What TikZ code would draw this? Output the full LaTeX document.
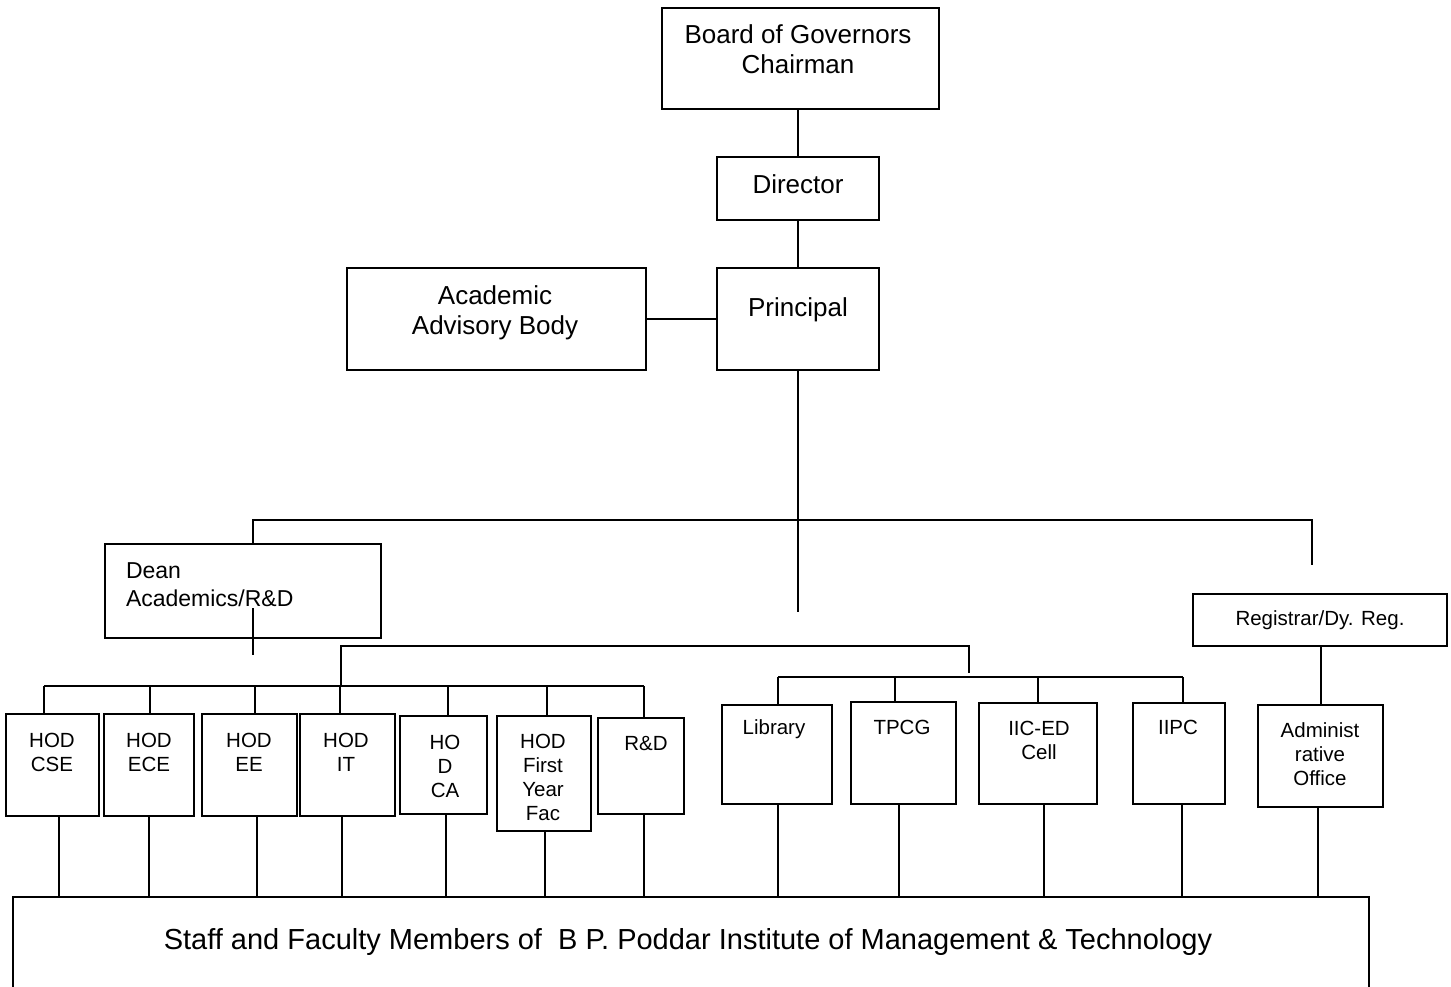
\documentclass[tikz,border=0pt]{standalone}
\usepackage{fontspec}
\setmainfont{Liberation Sans}
\usetikzlibrary{fit}
\begin{document}
\begin{tikzpicture}[x=0.5pt,y=-0.5pt,line width=1pt,
  box/.style={draw,inner sep=0pt,line width=1pt},
  big/.style={inner sep=0pt,align=center,font=\fontsize{13}{15.25}\selectfont},
  mid/.style={inner sep=0pt,align=left,font=\fontsize{11.5}{14}\selectfont},
  small/.style={inner sep=0pt,align=center,font=\fontsize{10.25}{12}\selectfont},
  huge/.style={inner sep=0pt,font=\fontsize{14.5}{17}\selectfont}]
\useasboundingbox (0,0) rectangle (1451,986);
\clip (0,0) rectangle (1451,986);
% boxes
\node[box,fit={(662,8) (939,109)}] (board) {};
\node[box,fit={(717,157) (879,220)}] (director) {};
\node[box,fit={(717,268) (879,370)}] (principal) {};
\node[box,fit={(347,268) (646,370)}] (academic) {};
\node[box,fit={(105,544) (381,638)}] (dean) {};
\node[box,fit={(1193,594) (1447,646)}] (registrar) {};
\node[box,fit={(6,714) (99,816)}] (cse) {};
\node[box,fit={(104,714) (194,816)}] (ece) {};
\node[box,fit={(202,714) (297,816)}] (ee) {};
\node[box,fit={(300,714) (395,816)}] (it) {};
\node[box,fit={(400,716) (487,814)}] (ca) {};
\node[box,fit={(497,716) (591,831)}] (fy) {};
\node[box,fit={(598,718) (684,814)}] (rd) {};
\node[box,fit={(722,705) (832,804)}] (library) {};
\node[box,fit={(851,702) (956,804)}] (tpcg) {};
\node[box,fit={(979,703) (1097,804)}] (iic) {};
\node[box,fit={(1133,703) (1225,804)}] (iipc) {};
\node[box,fit={(1258,705) (1383,807)}] (admin) {};
\node[box,fit={(13,897) (1369,1020)}] (staff) {};
% texts
\node[big] (boardt) at (798,49) {Board of Governors\\Chairman};
\node[big] (directort) at (798,184) {Director};
\node[big] (principalt) at (798,310) {Principal};
\node[big] (academict) at (495,313) {Academic\\Advisory Body};
\node[mid,anchor=west] (deant) at (125,585) {Dean\\Academics/R\&D};
\node[small] (registrart) at (1320,620) {Registrar/Dy. Reg.};
\node[small] (cset) at (52,752) {HOD\\CSE};
\node[small] (ecet) at (149,752) {HOD\\ECE};
\node[small] (eet) at (249,752) {HOD\\EE};
\node[small] (itt) at (346,752) {HOD\\IT};
\node[small] (cat) at (445,766) {HO\\D\\CA};
\node[small] (fyt) at (543,777) {HOD\\First\\Year\\Fac};
\node[small] (rdt) at (646,743) {R\&D};
\node[small] (libraryt) at (774,729) {Library};
\node[small] (tpcgt) at (902,727) {TPCG};
\node[small] (iict) at (1039,740) {IIC-ED\\Cell};
\node[small] (iipct) at (1178,727) {IIPC};
\node[small] (admint) at (1320,754) {Administ\\rative\\Office};
\node[huge] (stafft) at (688,942) {Staff and Faculty Members of\ \ B P. Poddar Institute of Management \& Technology};
% top connectors
\draw (director.north |- board.south) -- (director.north);
\draw (director.south) -- (principal.north);
\draw (academic.east) -- (principal.west);
\coordinate (pend) at (798,612);
\draw (principal.south) -- (pend);
\coordinate (hl) at (253,520);
\coordinate (hr) at (1312,520);
\coordinate (rend) at (1312,565);
\draw (dean.north -| hl) -- (hl) -- (hr) -- (rend);
\coordinate (dtop) at (253,608);
\coordinate (dbot) at (253,655);
\draw (dtop) -- (dbot);
% middle bus
\coordinate (m1) at (341,646);
\coordinate (m2) at (969,646);
\coordinate (m1b) at (341,686);
\coordinate (m2b) at (969,673);
\draw (m1b) -- (m1) -- (m2) -- (m2b);
% HOD bus
\coordinate (h1) at (44,686);
\coordinate (h7) at (644,686);
\draw (h1) -- (h7);
\foreach \x/\n in {44/cse,150/ece,255/ee,340/it,448/ca,547/fy,644/rd}
  \draw (\x,686) coordinate (hb\n) -- (hb\n |- \n.north);
% right bus
\coordinate (r1) at (778,677);
\coordinate (r4) at (1183,677);
\draw (r1) -- (r4);
\foreach \x/\n in {778/library,895/tpcg,1038/iic,1183/iipc}
  \draw (\x,677) coordinate (rb\n) -- (rb\n |- \n.north);
\draw (admin.north |- registrar.south) -- (admin.north);
% lines to staff box
\foreach \x/\n in {59/cse,149/ece,257/ee,342/it,446/ca,545/fy,644/rd,778/library,899/tpcg,1044/iic,1182/iipc,1318/admin}
  \draw (\x,900) coordinate (sb\n) (sb\n |- \n.south) -- (sb\n |- staff.north);
\end{tikzpicture}
\end{document}
